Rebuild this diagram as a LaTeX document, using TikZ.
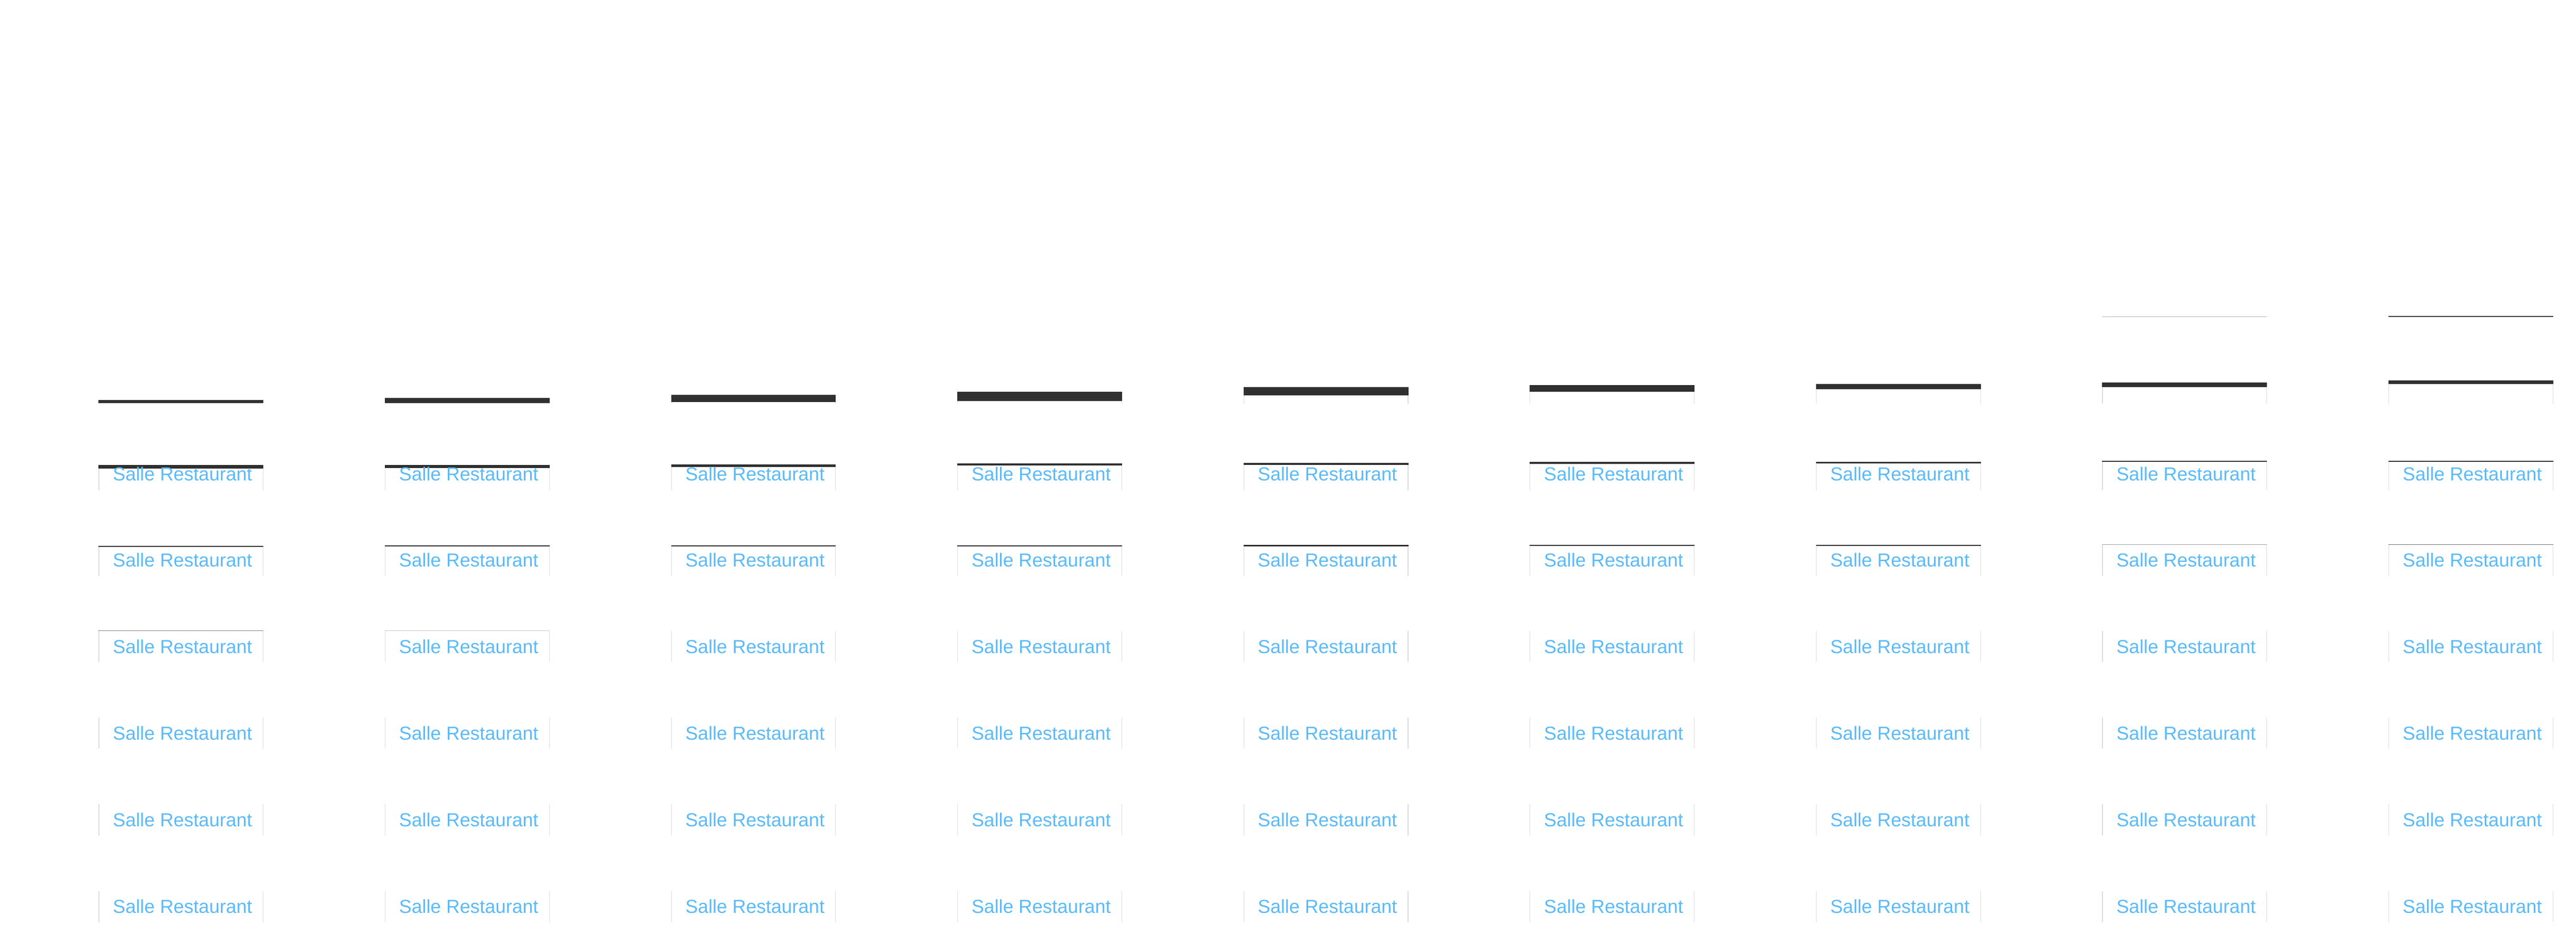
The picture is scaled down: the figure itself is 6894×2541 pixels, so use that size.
\documentclass[tikz,border=0pt]{standalone}
\usepackage{fontspec}
\setmainfont{Liberation Sans}
\definecolor{bar}{HTML}{303030}
\definecolor{edge}{HTML}{DCDCDC}
\definecolor{label}{RGB}{91,186,250}
\definecolor{g70}{HTML}{707070}
\definecolor{ga0}{HTML}{A0A0A0}
\definecolor{g80}{HTML}{808080}
\definecolor{gc8}{HTML}{C8C8C8}
\definecolor{gb0}{HTML}{B0B0B0}
\definecolor{g40}{HTML}{404040}
\tikzset{
  lbl/.style={anchor=base, inner sep=0pt, outer sep=0pt, text=label,
    font=\fontsize{12.6}{15}\selectfont}
}
\begin{document}
\begin{tikzpicture}[x=0.25pt,y=-0.25pt]
\fill[white] (0,0) rectangle (6894,2541);
\useasboundingbox (0,0) rectangle (6894,2541);
\foreach \col/\ua/\ub/\ra/\rb/\sa/\sb/\scl in {
1/1070/1078/1244/1253/1460.3/1462.7/bar,
2/1064.5/1078/1244/1251.5/1459.3/1462/bar,
3/1056.6/1075.3/1242/1249/1459/1462/bar,
4/1048/1072/1239/1244.4/1458.5/1461.5/bar,
5/1035.5/1057/1237.5/1243/1458/1461/bar,
6/1030.4/1048.4/1236/1240.8/1457.5/1460/bar,
7/1026.5/1041.6/1235/1239.3/1457/1459.5/bar,
8/1022.5/1035.8/1233/1236/1456/1457.7/ga0,
9/1017/1026.5/1233/1235.5/1456/1457.5/g70}{
  \pgfmathsetmacro\L{264+766*(\col-1)}
  \pgfmathsetmacro\R{\L+441}
  % side edges of each item
  \foreach \tp/\bt in {\ua/1079,\ra/1311,\sa/1540,1687/1771,1919/2002,2151/2235,2384/2467}{
    \fill[edge] (\L,\tp) rectangle (\L+1.5,\bt);
    \fill[edge] (\R-1.5,\tp) rectangle (\R,\bt);
  }
  % top borders
  \fill[bar] (\L,\ua) rectangle (\R,\ub);
  \fill[bar] (\L,\ra) rectangle (\R,\rb);
  \fill[\scl] (\L,\sa) rectangle (\R,\sb);
  % labels
  \foreach \row/\base in {1/1286,2/1516.5,3/1748,4/1979,5/2211,6/2443}{
    \node[lbl] (t\row-\col) at (\L+224.5,\base) {Salle Restaurant};
  }
}
% faint borders of third items in columns 1 and 2
\fill[g80] (264,1686.3) rectangle (705,1688);
\fill[gc8] (1030,1686.3) rectangle (1471,1688);
% incoming borders at the top of columns 8 and 9
\fill[gb0] (5626,846) rectangle (6067,848);
\fill[g40] (6392,845.5) rectangle (6833,847.5);
\end{tikzpicture}
\end{document}
